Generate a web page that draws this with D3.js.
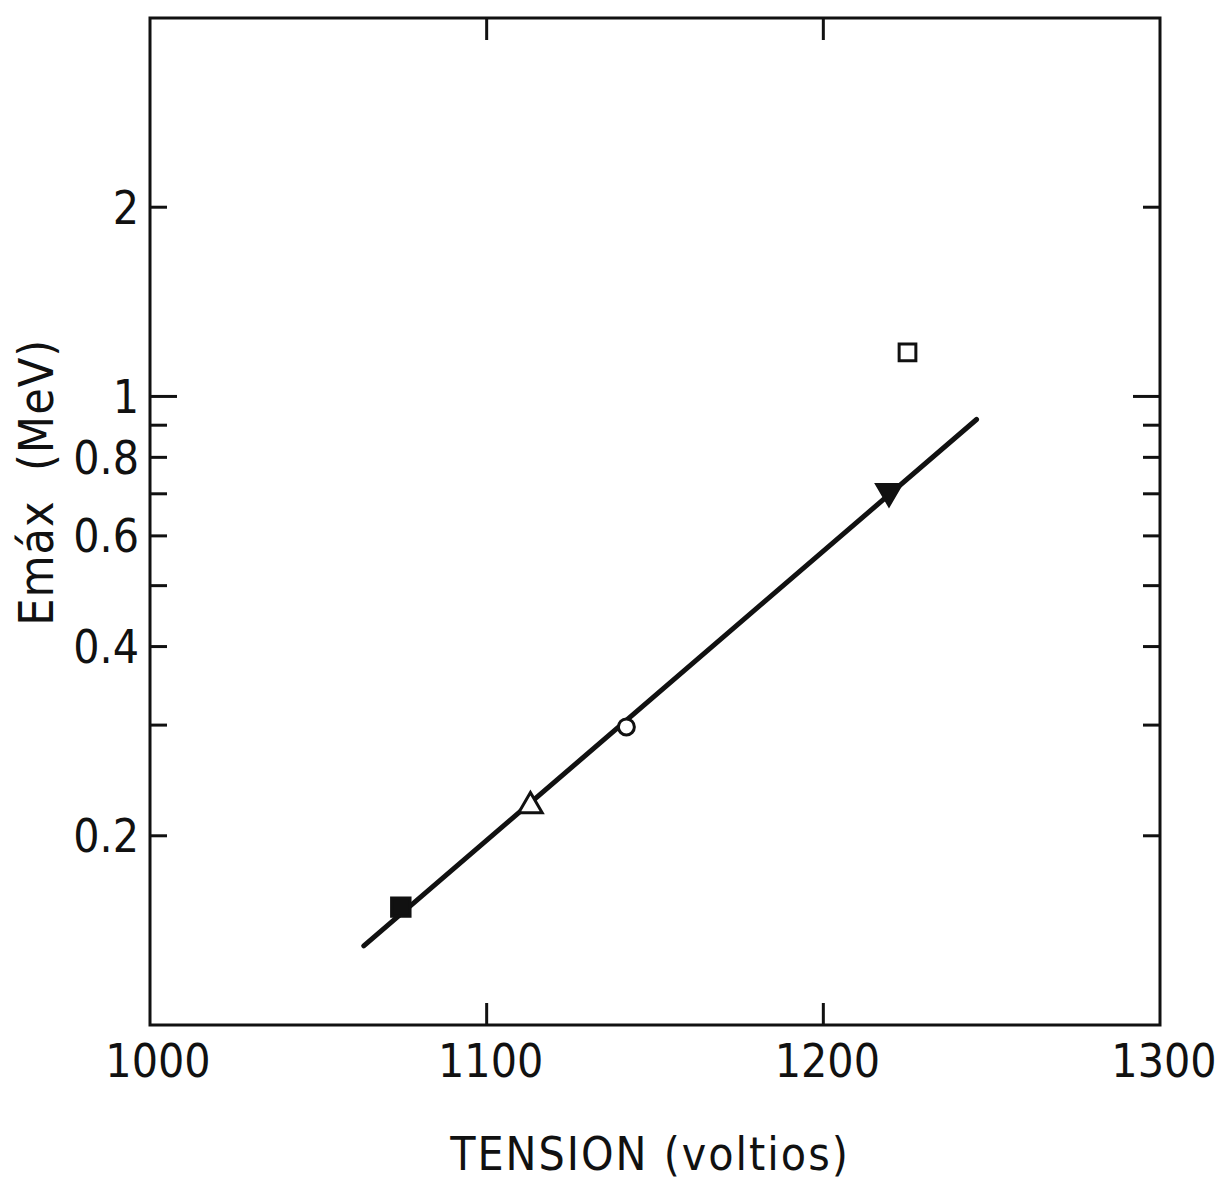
<!DOCTYPE html>
<html>
<head>
<meta charset="utf-8">
<script src="https://cdn.jsdelivr.net/npm/d3@7"></script>
<style>
  body { margin: 0; background: #fff; }
  svg text { font-family: "DejaVu Sans Condensed", "Liberation Sans Narrow", sans-serif; fill: #111; white-space: pre; }
</style>
</head>
<body>
<div id="chart"></div>
<script>
// data
const tension = [1074.5, 1113, 1141.5, 1219.5, 1225];
const emax = [0.154, 0.223, 0.298, 0.706, 1.175];
const symbols = ['squareFilled', 'triangleOpen', 'circleOpen', 'triangleDownFilled', 'squareOpen'];

// fitted line end points
const fitX = [1063.5, 1245.5];
const fitY = [0.1336, 0.919];

const xTicks = [1000, 1100, 1200, 1300];
const yTicks = [0.2, 0.3, 0.4, 0.5, 0.6, 0.7, 0.8, 0.9, 1, 2];
const yLabels = [0.2, 0.4, 0.6, 0.8, 1, 2];

const W = 1219, H = 1182;
const margin = { top: 18, right: 59, bottom: 157, left: 150 };
const width = W - margin.left - margin.right;
const height = H - margin.top - margin.bottom;

const svg = d3.select('#chart')
  .append('svg')
  .attr('width', W)
  .attr('height', H)
  .append('g')
  .attr('transform', `translate(${margin.left},${margin.top})`);

const x = d3.scaleLinear().domain([1000, 1300]).range([0, width]);
const y = d3.scaleLog().domain([0.1, 4]).range([height, 0]);

// frame
svg.append('rect')
  .attr('width', width)
  .attr('height', height)
  .attr('fill', 'none')
  .attr('stroke', '#111')
  .attr('stroke-width', 3);

// inward ticks, left and right
const tickLen = (d) => (d === 1 ? 27 : 17);
svg.append('g')
  .selectAll('line')
  .data(yTicks)
  .join('line')
  .attr('x1', 0)
  .attr('x2', (d) => tickLen(d))
  .attr('y1', (d) => y(d))
  .attr('y2', (d) => y(d))
  .attr('stroke', '#111')
  .attr('stroke-width', 3);

svg.append('g')
  .selectAll('line')
  .data(yTicks)
  .join('line')
  .attr('x1', width)
  .attr('x2', (d) => width - tickLen(d))
  .attr('y1', (d) => y(d))
  .attr('y2', (d) => y(d))
  .attr('stroke', '#111')
  .attr('stroke-width', 3);

// inward ticks, top and bottom
const innerX = xTicks.slice(1, -1);
svg.append('g')
  .selectAll('line')
  .data(innerX)
  .join('line')
  .attr('x1', (d) => x(d))
  .attr('x2', (d) => x(d))
  .attr('y1', 0)
  .attr('y2', 22)
  .attr('stroke', '#111')
  .attr('stroke-width', 3);

svg.append('g')
  .selectAll('line')
  .data(innerX)
  .join('line')
  .attr('x1', (d) => x(d))
  .attr('x2', (d) => x(d))
  .attr('y1', height)
  .attr('y2', height - 22)
  .attr('stroke', '#111')
  .attr('stroke-width', 3);

// tick labels
svg.append('g')
  .selectAll('text')
  .data(xTicks)
  .join('text')
  .attr('x', (d) => x(d) + (d === 1000 ? 8 : 4))
  .attr('y', height + 52)
  .attr('text-anchor', 'middle')
  .attr('font-size', '46px')
  .text((d) => d);

svg.append('g')
  .selectAll('text')
  .data(yLabels)
  .join('text')
  .attr('x', -11)
  .attr('y', (d) => y(d))
  .attr('dy', '0.36em')
  .attr('text-anchor', 'end')
  .attr('font-size', '46px')
  .text((d) => d);

// axis titles
svg.append('text')
  .attr('x', x(1150) - 5)
  .attr('y', height + 145)
  .attr('text-anchor', 'middle')
  .attr('font-size', '46px')
  .attr('letter-spacing', '2px')
  .text('TENSION (voltios)');

svg.append('text')
  .attr('transform', `translate(${-97},${y(0.73)}) rotate(-90)`)
  .attr('text-anchor', 'middle')
  .attr('font-size', '48px')
  .attr('letter-spacing', '1px')
  .text('Emáx  (MeV)');

// fitted line
svg.append('path')
  .datum(d3.zip(fitX, fitY))
  .attr('fill', 'none')
  .attr('stroke', '#111')
  .attr('stroke-width', 5)
  .attr('stroke-linecap', 'round')
  .attr('d', d3.line().x((d) => x(d[0])).y((d) => y(d[1])));

// markers
const points = d3.zip(tension, emax, symbols);
const shape = {
  squareFilled: { type: d3.symbolSquare, size: 340, fill: '#111' },
  squareOpen: { type: d3.symbolSquare, size: 280, fill: '#fff' },
  triangleOpen: { type: d3.symbolTriangle, size: 240, fill: '#fff' },
  triangleDownFilled: { type: d3.symbolTriangle, size: 260, fill: '#111', flip: true },
  circleOpen: { type: d3.symbolCircle, size: 200, fill: '#fff' },
};

svg.append('g')
  .selectAll('path')
  .data(points)
  .join('path')
  .attr('transform', (d) => `translate(${x(d[0])},${y(d[1])})${shape[d[2]].flip ? ' rotate(180)' : ''}`)
  .attr('d', (d) => d3.symbol().type(shape[d[2]].type).size(shape[d[2]].size)())
  .attr('fill', (d) => shape[d[2]].fill)
  .attr('stroke', '#111')
  .attr('stroke-width', 3);
</script>
</body>
</html>
